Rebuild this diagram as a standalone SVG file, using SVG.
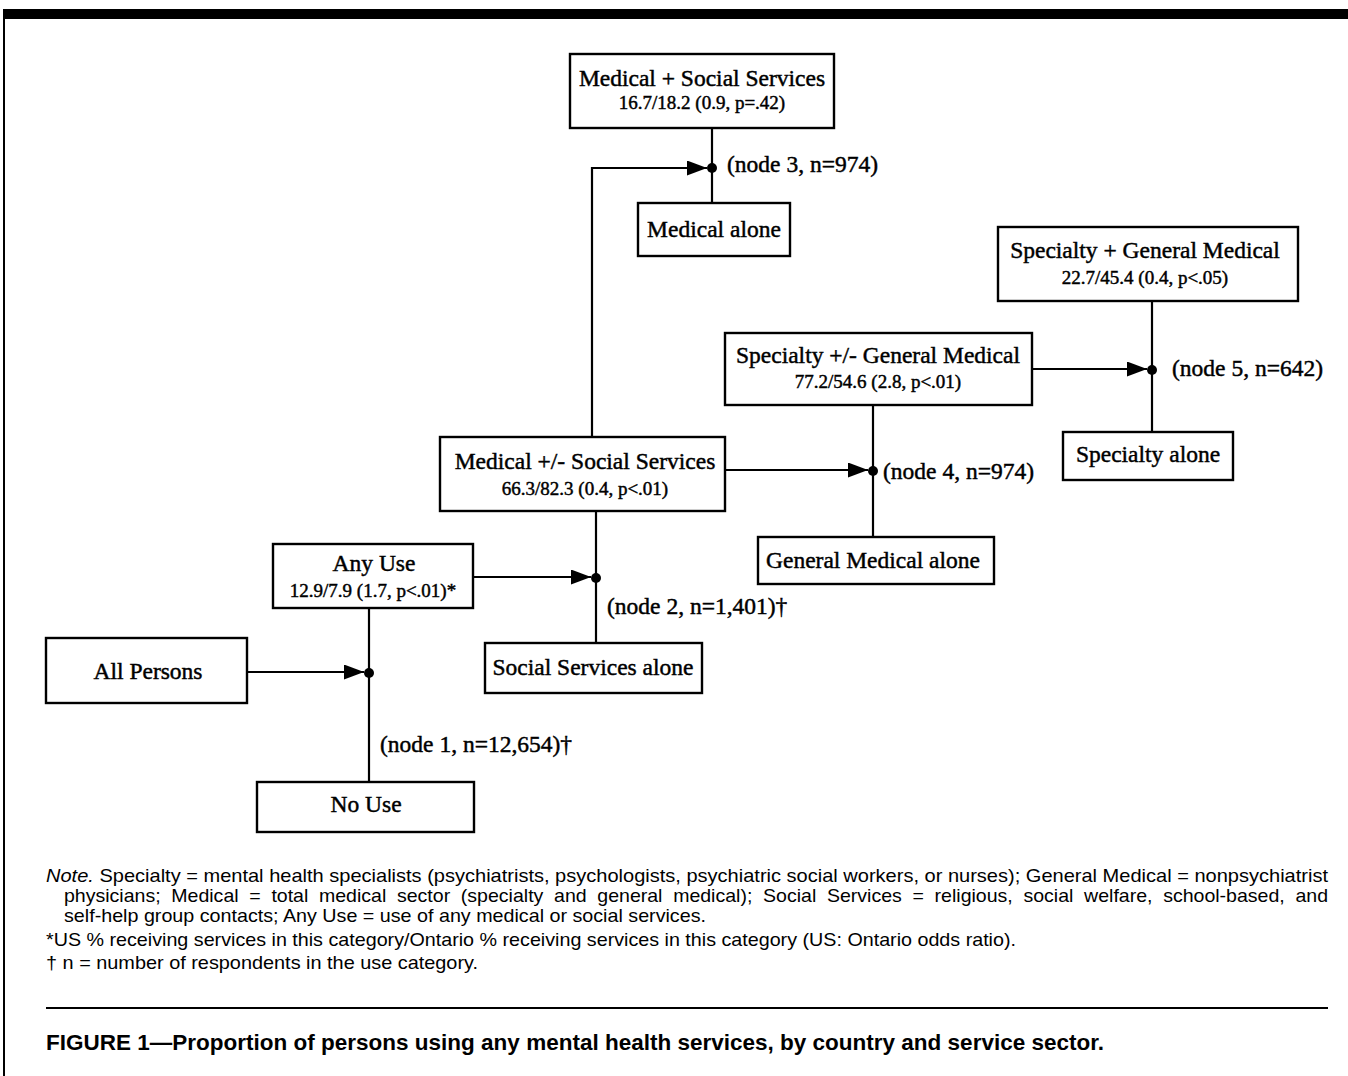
<svg xmlns="http://www.w3.org/2000/svg" width="1348" height="1076" viewBox="0 0 1348 1076">
<defs>
<style>
.box{fill:#fff;stroke:#000;stroke-width:2.4}
.ln{fill:none;stroke:#000;stroke-width:2.2}
.t{font-family:"Liberation Serif","Times New Roman",serif;font-size:23.5px;fill:#000;stroke:#000;stroke-width:0.45;text-anchor:middle}
.s{font-family:"Liberation Serif","Times New Roman",serif;font-size:19px;fill:#000;stroke:#000;stroke-width:0.45;text-anchor:middle}
.lbl{font-family:"Liberation Serif","Times New Roman",serif;font-size:23.5px;fill:#000;stroke:#000;stroke-width:0.45}
.note{font-family:"Liberation Sans",Arial,sans-serif;font-size:18.5px;fill:#000}
.cap{font-family:"Liberation Sans",Arial,sans-serif;font-size:22px;font-weight:bold;fill:#000}
</style>
<marker id="ah" markerWidth="20" markerHeight="15" refX="20" refY="7.5" orient="auto" markerUnits="userSpaceOnUse">
<path d="M0,0 L20,7.5 L0,15 Z" fill="#000"/>
</marker>
</defs>
<rect width="1348" height="1076" fill="#fff"/>
<rect x="3" y="9" width="1345" height="10" fill="#000"/>
<line x1="4" y1="9" x2="4" y2="1076" stroke="#000" stroke-width="2"/>

<g id="connectors">
<line class="ln" x1="247" y1="672" x2="364" y2="672" marker-end="url(#ah)"/>
<line class="ln" x1="369" y1="608" x2="369" y2="782"/>
<circle cx="369" cy="673" r="5"/>
<line class="ln" x1="473" y1="577" x2="591" y2="577" marker-end="url(#ah)"/>
<line class="ln" x1="596" y1="511" x2="596" y2="643"/>
<circle cx="596" cy="578" r="5"/>
<polyline class="ln" points="592,437 592,168 707,168" marker-end="url(#ah)"/>
<line class="ln" x1="712" y1="128" x2="712" y2="203"/>
<circle cx="712" cy="168" r="5"/>
<line class="ln" x1="725" y1="470" x2="868" y2="470" marker-end="url(#ah)"/>
<line class="ln" x1="873" y1="405" x2="873" y2="537"/>
<circle cx="873" cy="471" r="5"/>
<line class="ln" x1="1032" y1="369" x2="1147" y2="369" marker-end="url(#ah)"/>
<line class="ln" x1="1152" y1="301" x2="1152" y2="432"/>
<circle cx="1152" cy="370" r="5"/>
</g>

<g id="labels">
<text class="lbl" x="380" y="752">(node 1, n=12,654)†</text>
<text class="lbl" x="607" y="614">(node 2, n=1,401)†</text>
<text class="lbl" x="727" y="172">(node 3, n=974)</text>
<text class="lbl" x="883" y="479">(node 4, n=974)</text>
<text class="lbl" x="1172" y="376">(node 5, n=642)</text>
</g>

<g id="all-persons">
<rect class="box" x="46" y="638" width="201" height="65"/>
<text class="t" x="148" y="679">All Persons</text>
</g>
<g id="any-use">
<rect class="box" x="273" y="544" width="200" height="64"/>
<text class="t" x="374" y="571">Any Use</text>
<text class="s" x="373" y="597">12.9/7.9 (1.7, p&lt;.01)*</text>
</g>
<g id="no-use">
<rect class="box" x="257" y="782" width="217" height="50"/>
<text class="t" x="366" y="812">No Use</text>
</g>
<g id="medical-pm-social">
<rect class="box" x="440" y="437" width="285" height="74"/>
<text class="t" x="585" y="469">Medical +/- Social Services</text>
<text class="s" x="585" y="495">66.3/82.3 (0.4, p&lt;.01)</text>
</g>
<g id="social-alone">
<rect class="box" x="485" y="643" width="217" height="50"/>
<text class="t" x="593" y="675">Social Services alone</text>
</g>
<g id="medical-social">
<rect class="box" x="570" y="54" width="264" height="74"/>
<text class="t" x="702" y="86">Medical + Social Services</text>
<text class="s" x="702" y="109">16.7/18.2 (0.9, p=.42)</text>
</g>
<g id="medical-alone">
<rect class="box" x="638" y="203" width="152" height="53"/>
<text class="t" x="714" y="237">Medical alone</text>
</g>
<g id="specialty-pm-general">
<rect class="box" x="725" y="333" width="307" height="72"/>
<text class="t" x="878" y="363">Specialty +/- General Medical</text>
<text class="s" x="878" y="388">77.2/54.6 (2.8, p&lt;.01)</text>
</g>
<g id="general-alone">
<rect class="box" x="758" y="537" width="236" height="47"/>
<text class="t" x="873" y="568">General Medical alone</text>
</g>
<g id="specialty-general">
<rect class="box" x="998" y="227" width="300" height="74"/>
<text class="t" x="1145" y="258">Specialty + General Medical</text>
<text class="s" x="1145" y="284">22.7/45.4 (0.4, p&lt;.05)</text>
</g>
<g id="specialty-alone">
<rect class="box" x="1063" y="432" width="170" height="48"/>
<text class="t" x="1148" y="462">Specialty alone</text>
</g>

<g id="note">
<text class="note" x="46" y="882" textLength="1282" lengthAdjust="spacingAndGlyphs"><tspan font-style="italic">Note.</tspan> Specialty = mental health specialists (psychiatrists, psychologists, psychiatric social workers, or nurses); General Medical = nonpsychiatrist</text>
<text class="note" x="64" y="902" word-spacing="5" textLength="1264" lengthAdjust="spacingAndGlyphs">physicians; Medical = total medical sector (specialty and general medical); Social Services = religious, social welfare, school-based, and</text>
<text class="note" x="64" y="922" textLength="642" lengthAdjust="spacingAndGlyphs">self-help group contacts; Any Use = use of any medical or social services.</text>
<text class="note" x="46" y="946" textLength="970" lengthAdjust="spacingAndGlyphs">*US % receiving services in this category/Ontario % receiving services in this category (US: Ontario odds ratio).</text>
<text class="note" x="46" y="969" textLength="432" lengthAdjust="spacingAndGlyphs">† n = number of respondents in the use category.</text>
</g>

<line x1="46" y1="1008" x2="1328" y2="1008" stroke="#000" stroke-width="2"/>
<text class="cap" x="46" y="1050" textLength="1058" lengthAdjust="spacingAndGlyphs">FIGURE 1—Proportion of persons using any mental health services, by country and service sector.</text>
</svg>
